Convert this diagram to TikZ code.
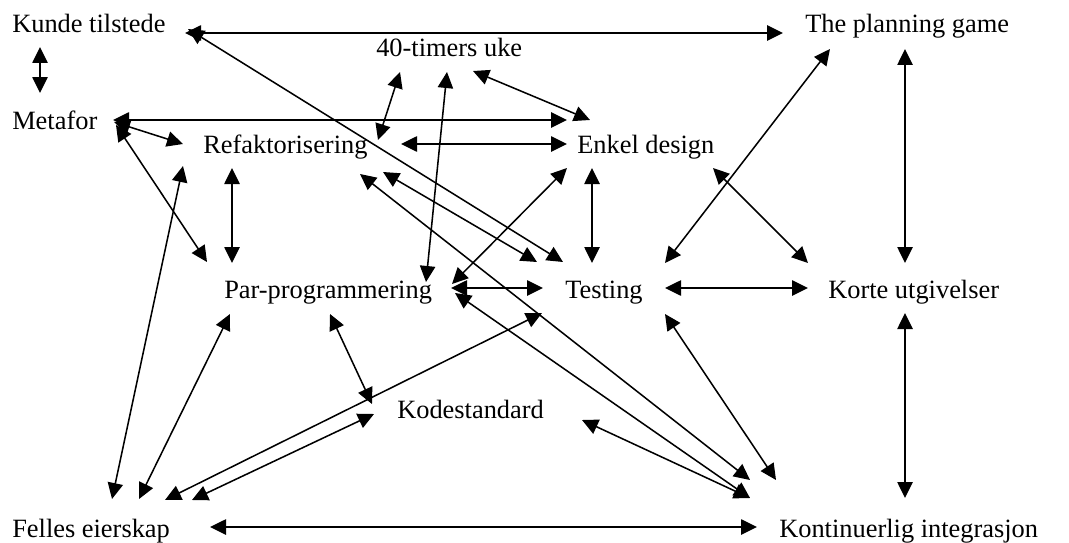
\documentclass[tikz,border=0pt]{standalone}
\usepackage{fontspec}
\setmainfont{Liberation Serif}
\usepackage{tikz}
\usetikzlibrary{arrows.meta}

\tikzset{
  lbl/.style={anchor=base west, inner sep=0pt, font=\fontsize{19.8}{24}\selectfont},
  twoway/.style={{Triangle[length=12pt,width=11.5pt]}-{Triangle[length=12pt,width=11.5pt]}, line width=1.15pt}
}

\begin{document}
\begin{tikzpicture}[x=0.75pt, y=-0.75pt]
    \useasboundingbox (0,0) rectangle (1069,542);

    % practices, placed at their base line
    \node[lbl] (kunde)  at (12,33)   {Kunde tilstede};
    \node[lbl] (timer)  at (376,57)  {40-timers uke};
    \node[lbl] (plan)   at (805,33)  {The planning game};
    \node[lbl] (meta)   at (12,129)  {Metafor};
    \node[lbl] (refak)  at (203,153) {Refaktorisering};
    \node[lbl] (enkel)  at (577,153) {Enkel design};
    \node[lbl] (par)    at (224,298) {Par-programmering};
    \node[lbl] (test)   at (565,298) {Testing};
    \node[lbl] (korte)  at (828,298) {Korte utgivelser};
    \node[lbl] (kode)   at (397,418) {Kodestandard};
    \node[lbl] (felles) at (12,537)  {Felles eierskap};
    \node[lbl] (kont)   at (779,537) {Kontinuerlig integrasjon};

    % Kunde tilstede
    \draw[twoway] ([shift={(28,14)}]kunde.base west) -- ([shift={(28,-36)}]meta.base west);
    \draw[twoway] ([shift={(173,0)}]kunde.base west) -- ([shift={(-22,0)}]plan.base west);
    \draw[twoway] ([shift={(176,-4)}]kunde.base west) -- ([shift={(-2,-36)}]test.base west);

    % Metafor
    \draw[twoway] ([shift={(101,-9)}]meta.base west) -- ([shift={(-10,-33)}]enkel.base west);
    \draw[twoway] ([shift={(102,-7)}]meta.base west) -- ([shift={(-20,-9)}]refak.base west);
    \draw[twoway] ([shift={(104,-4)}]meta.base west) -- ([shift={(-17,-36)}]par.base west);

    % Refaktorisering
    \draw[twoway] ([shift={(29,15)}]refak.base west) -- ([shift={(8,-35)}]par.base west);
    \draw[twoway] ([shift={(-20,13)}]refak.base west) -- ([shift={(100,-38)}]felles.base west);
    \draw[twoway] ([shift={(180,19)}]refak.base west) -- ([shift={(-28,-36)}]test.base west);
    \draw[twoway] ([shift={(157,21)}]refak.base west) -- ([shift={(-29,-57)}]kont.base west);
    \draw[twoway] ([shift={(198,-9)}]refak.base west) -- ([shift={(-10,-9)}]enkel.base west);

    % 40-timers uke
    \draw[twoway] ([shift={(24,15)}]timer.base west) -- ([shift={(175,-13)}]refak.base west);
    \draw[twoway] ([shift={(71,15)}]timer.base west) -- ([shift={(202,-16)}]par.base west);
    \draw[twoway] ([shift={(97,14)}]timer.base west) -- ([shift={(13,-33)}]enkel.base west);

    % Enkel design
    \draw[twoway] ([shift={(-10,15)}]enkel.base west) -- ([shift={(228,-14)}]par.base west);
    \draw[twoway] ([shift={(15,15)}]enkel.base west) -- ([shift={(27,-35)}]test.base west);
    \draw[twoway] ([shift={(136,15)}]enkel.base west) -- ([shift={(-20,-35)}]korte.base west);

    % The planning game
    \draw[twoway] ([shift={(25,16)}]plan.base west) -- ([shift={(100,-35)}]test.base west);
    \draw[twoway] ([shift={(100,16)}]plan.base west) -- ([shift={(77,-35)}]korte.base west);

    % Par-programmering
    \draw[twoway] ([shift={(227,-10)}]par.base west) -- ([shift={(-22,-10)}]test.base west);
    \draw[twoway] ([shift={(106,16)}]par.base west) -- ([shift={(-25,-14)}]kode.base west);
    \draw[twoway] ([shift={(6,16)}]par.base west) -- ([shift={(127,-38)}]felles.base west);
    \draw[twoway] ([shift={(231,-5)}]par.base west) -- ([shift={(-29,-39)}]kont.base west);

    % Testing
    \draw[twoway] ([shift={(100,-10)}]test.base west) -- ([shift={(-20,-10)}]korte.base west);
    \draw[twoway] ([shift={(-23,15)}]test.base west) -- ([shift={(153,-37)}]felles.base west);
    \draw[twoway] ([shift={(100,16)}]test.base west) -- ([shift={(-3,-57)}]kont.base west);

    % Korte utgivelser, Kodestandard, Felles eierskap
    \draw[twoway] ([shift={(77,15)}]korte.base west) -- ([shift={(126,-39)}]kont.base west);
    \draw[twoway] ([shift={(-23,-4)}]kode.base west) -- ([shift={(180,-37)}]felles.base west);
    \draw[twoway] ([shift={(185,2)}]kode.base west) -- ([shift={(-29,-39)}]kont.base west);
    \draw[twoway] ([shift={(198,-10)}]felles.base west) -- ([shift={(-22,-10)}]kont.base west);
\end{tikzpicture}
\end{document}
